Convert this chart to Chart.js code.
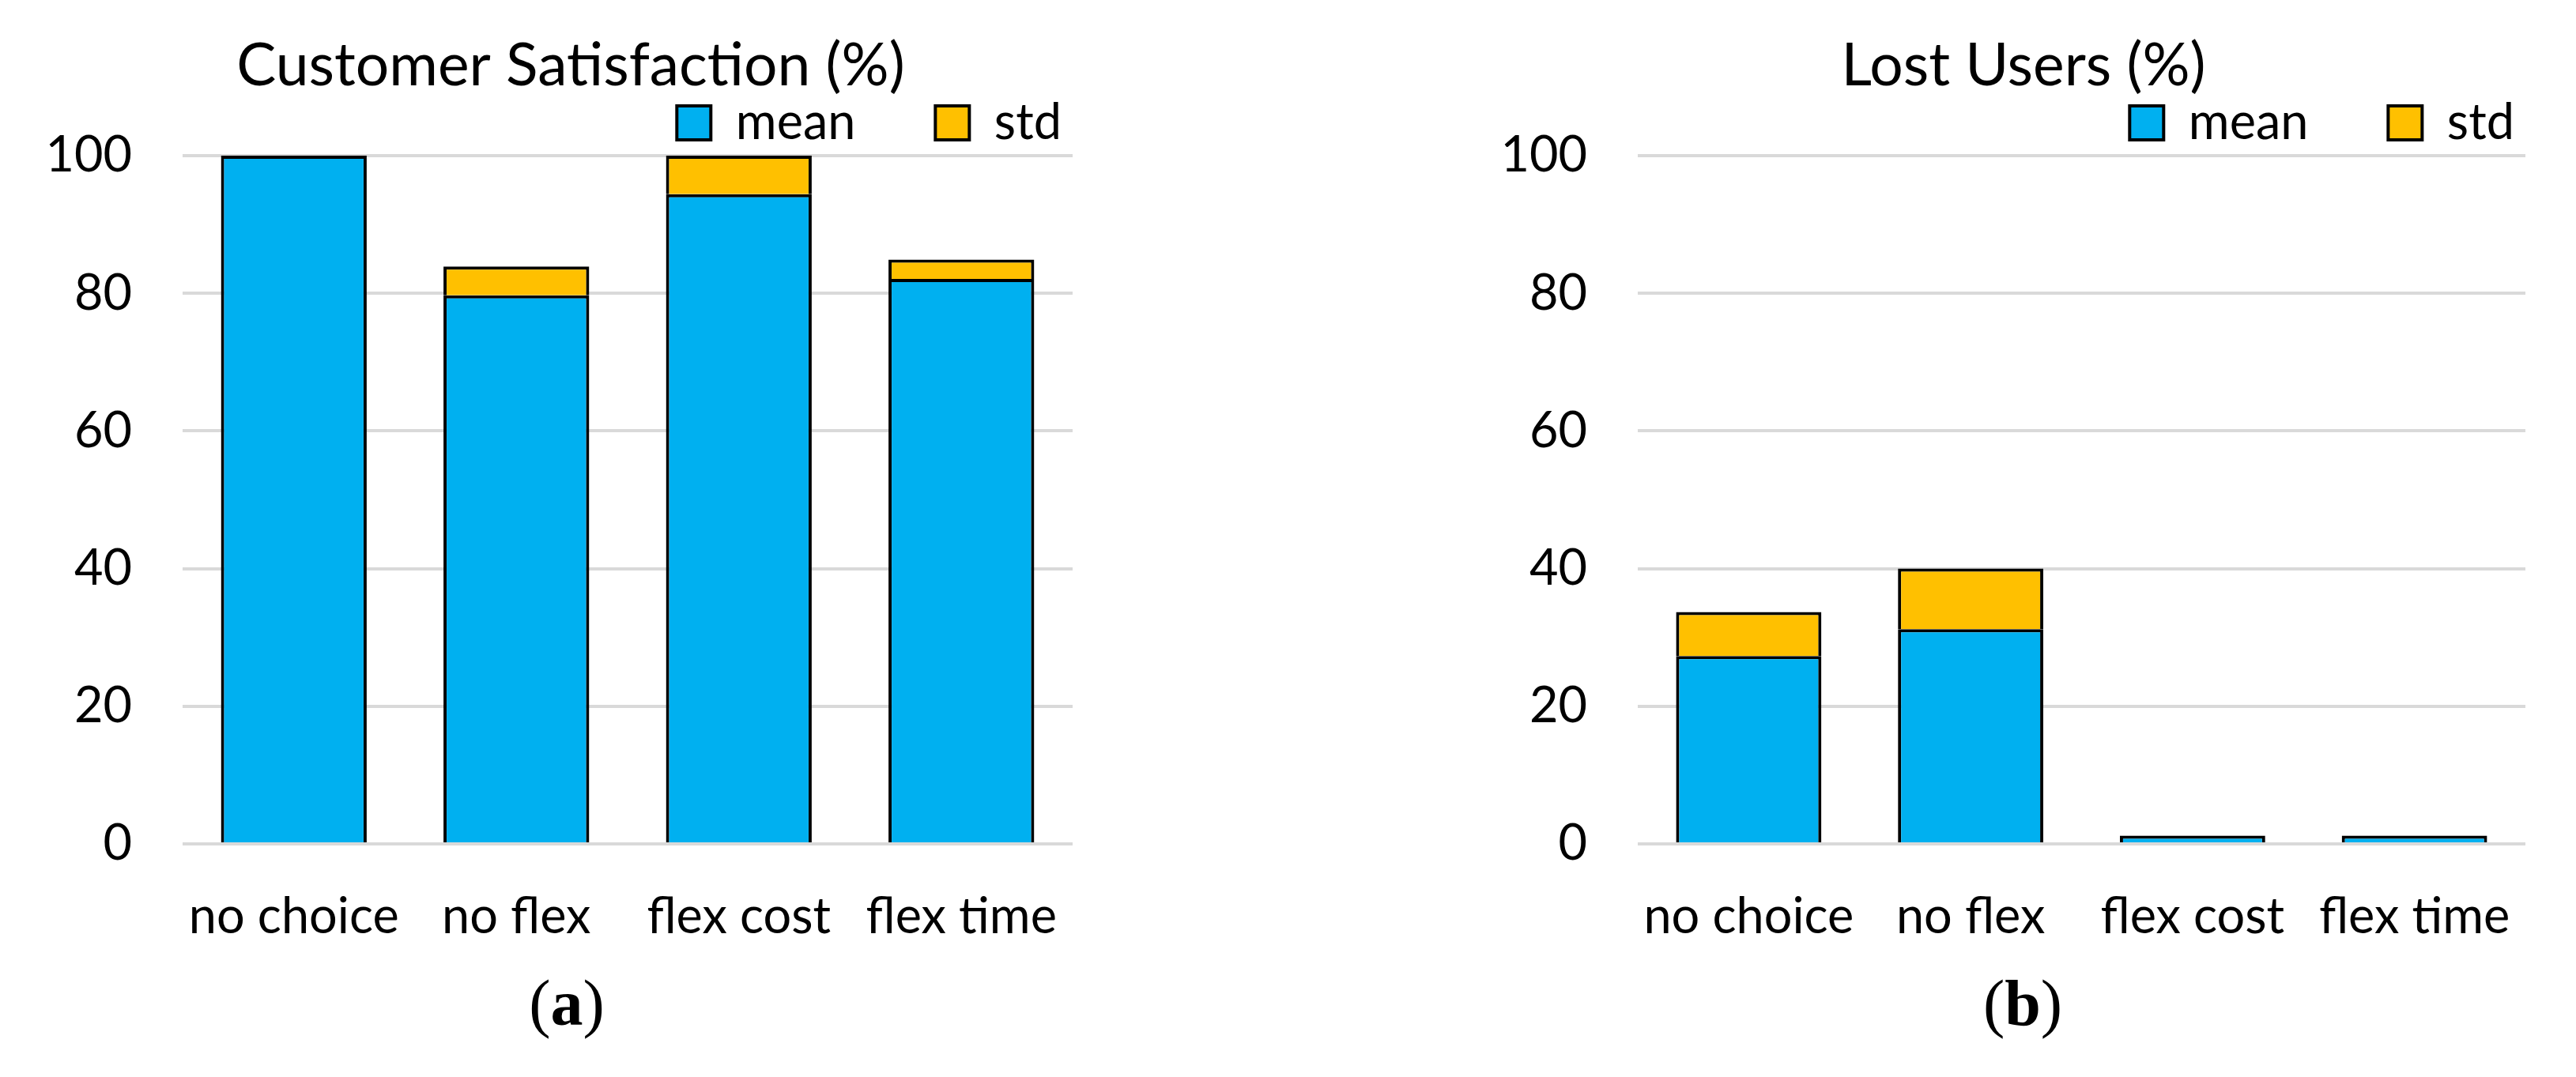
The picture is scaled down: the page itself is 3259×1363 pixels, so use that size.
<!DOCTYPE html>
<html lang="en">
<head>
<meta charset="UTF-8">
<title>Customer Satisfaction / Lost Users</title>
<script src="https://cdn.jsdelivr.net/npm/chart.js"></script>
<style>
    html, body { margin: 0; padding: 0; background: #fff; overflow: hidden; }
    body { width: 3259px; height: 1363px; position: relative; }
    .box { position: absolute; top: 0; }
    .box canvas { display: block; }
    .sub { position: absolute; top: 1229px; width: 300px; text-align: center;
           font-family: "Liberation Serif", serif; font-size: 82px; line-height: 1; color: #000; }
</style>
</head>
<body>
<div class="box" style="left:0px"><canvas id="chartSatisf" width="1444" height="1230"></canvas></div>
<div class="box" style="left:1838px"><canvas id="chartLost" width="1444" height="1230"></canvas></div>
<div class="sub" style="left:567px">(<b>a</b>)</div>
<div class="sub" style="left:2409px">(<b>b</b>)</div>

<script>
    // dados
    const categorias = ['no choice', 'no flex', 'flex cost', 'flex time'];
    const satisfMean = [100, 79.7, 94.4, 82.1];
    const satisfStd = [0, 4.2, 5.6, 2.8];
    const lostMean = [27.3, 31.2, 1.2, 1.2];
    const lostStd = [6.4, 8.8, 0, 0];
    const yTicks = [0, 20, 40, 60, 80, 100];

    const azul = '#00B0F0';
    const laranja = '#FFC000';
    const fonte = 'Lato';

    function criarGrafico(id, titulo, mean, std, yWidth) {
        const ctx = document.getElementById(id).getContext('2d');
        return new Chart(ctx, {
            type: 'bar',
            data: {
                labels: categorias,
                datasets: [{
                    label: 'mean',
                    data: mean,
                    backgroundColor: azul,
                    borderColor: '#000',
                    borderWidth: 4
                }, {
                    label: 'std',
                    data: std,
                    backgroundColor: laranja,
                    borderColor: '#000',
                    borderWidth: 4
                }]
            },
            options: {
                responsive: false,
                animation: false,
                devicePixelRatio: 1,
                layout: { padding: 0 },
                datasets: {
                    bar: { categoryPercentage: 1, barPercentage: 0.655 }
                },
                scales: {
                    x: {
                        stacked: true,
                        grid: { display: false, drawTicks: false },
                        border: { display: false },
                        ticks: { color: '#000', padding: 55, font: { family: fonte, size: 63 } },
                        afterFit: (s) => { s.height = 162; }
                    },
                    y: {
                        stacked: true,
                        min: 0,
                        max: 100,
                        afterBuildTicks: (s) => { s.ticks = yTicks.map(v => ({ value: v })); },
                        grid: { color: '#D9D9D9', lineWidth: 4, drawTicks: false },
                        border: { display: false },
                        ticks: { color: '#000', padding: 64, font: { family: fonte, size: 63 } },
                        afterFit: (s) => { s.width = yWidth; }
                    },
                    // eixo vazio só para deixar espaço à direita da área do gráfico
                    yr: {
                        position: 'right',
                        grid: { display: false, drawTicks: false },
                        border: { display: false },
                        ticks: { display: false },
                        afterFit: (s) => { s.width = 87; }
                    }
                },
                plugins: {
                    title: {
                        display: true,
                        text: titulo,
                        color: '#000',
                        font: { family: fonte, size: 75, weight: 'normal' },
                        padding: { top: 39, bottom: -106 }
                    },
                    legend: {
                        position: 'top',
                        align: 'end',
                        labels: {
                            color: '#000',
                            boxWidth: 43,
                            boxHeight: 43,
                            padding: 101,
                            font: { family: fonte, size: 63 }
                        }
                    },
                    tooltip: { enabled: false }
                }
            }
        });
    }

    criarGrafico('chartSatisf', 'Customer Satisfaction (%)', satisfMean, satisfStd, 231);
    criarGrafico('chartLost', 'Lost Users (%)', lostMean, lostStd, 234);
</script>
</body>
</html>
